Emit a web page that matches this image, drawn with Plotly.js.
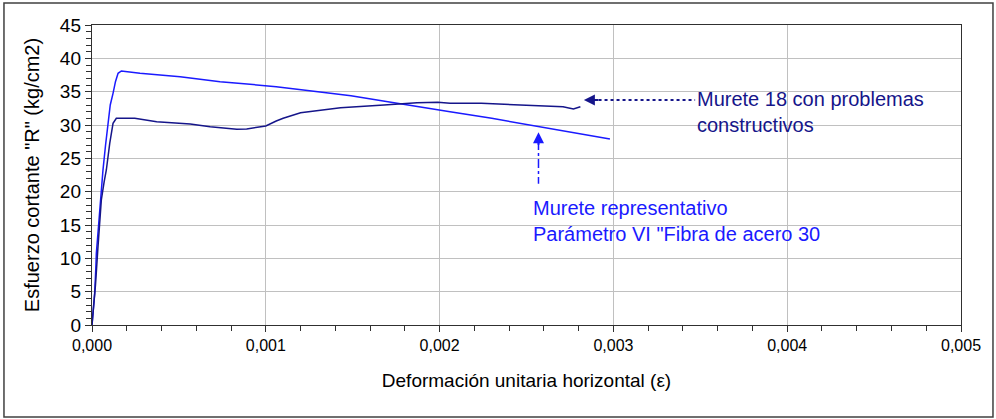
<!DOCTYPE html>
<html>
<head>
<meta charset="utf-8">
<script src="https://cdn.plot.ly/plotly-3.0.1.min.js"></script>
<style>
html,body{margin:0;padding:0;background:#fff;}
#chart{width:996px;height:419px;}
</style>
</head>
<body>
<div id="chart"></div>
<script>
// Murete representativo (Parámetro VI "Fibra de acero 30 ...")
const strainRepresentativo = [0, 0.000008, 0.0000155, 0.000022, 0.000025, 0.000035, 0.000044, 0.000052, 0.000063, 0.000078, 0.000092, 0.000105, 0.000121, 0.000135, 0.00015, 0.000169, 0.000276, 0.000507, 0.000737, 0.00089, 0.00106, 0.0013, 0.00149, 0.00172, 0.00195, 0.00206, 0.0023, 0.00258, 0.0028, 0.00298];
const stressRepresentativo = [0, 2.5, 4.8, 8.5, 10.8, 14.0, 17.2, 20.0, 23.2, 27.0, 30.7, 33.0, 34.75, 36.5, 37.75, 38.1, 37.75, 37.25, 36.5, 36.1, 35.75, 35.0, 34.4, 33.4, 32.4, 32.0, 31.0, 29.7, 28.7, 27.9];

// Murete 18 con problemas constructivos
const strainMurete18 = [0, 0.00001, 0.00002, 0.0000345, 0.000045, 0.0000537, 0.00007, 0.0000825, 0.000102, 0.000121, 0.00014, 0.000246, 0.000372, 0.000565, 0.00068, 0.000833, 0.00089, 0.001, 0.00106, 0.0011, 0.0012, 0.00143, 0.00168, 0.00187, 0.00199, 0.00206, 0.00224, 0.00252, 0.00271, 0.00277, 0.00281];
const stressMurete18 = [0, 3.0, 6.0, 11.75, 15.5, 18.75, 21.5, 23.25, 27.25, 30.25, 31.0, 31.0, 30.5, 30.15, 29.75, 29.35, 29.4, 29.85, 30.6, 31.0, 31.85, 32.6, 33.0, 33.35, 33.4, 33.25, 33.25, 33.0, 32.75, 32.4, 32.75];

const xTitle = 'Deformación unitaria horizontal (ε)';
const yTitle = 'Esfuerzo cortante "R" (kg/cm2)';
const labelMurete18 = 'Murete 18 con problemas<br>constructivos';
const labelRepresentativo = 'Murete representativo<br>Parámetro VI "Fibra de acero 30';

const fontFam = '"Liberation Sans", Arial, sans-serif';
const navy = '#15158a';
const blue = '#1a1aff';

const traces = [
  {x: strainRepresentativo, y: stressRepresentativo, mode: 'lines', line: {color: blue, width: 1.5}, hoverinfo: 'skip'},
  {x: strainMurete18, y: stressMurete18, mode: 'lines', line: {color: navy, width: 1.5}, hoverinfo: 'skip'}
];

const layout = {
  width: 996, height: 419,
  margin: {l: 92, r: 35, t: 25, b: 94},
  paper_bgcolor: '#ffffff', plot_bgcolor: '#ffffff',
  separators: ',.',
  showlegend: false,
  font: {family: fontFam, size: 16, color: '#000'},
  xaxis: {
    range: [0, 0.005], dtick: 0.001, tick0: 0, tickformat: '.3f',
    showgrid: true, gridcolor: '#c0c0c0', gridwidth: 1,
    showline: true, linecolor: '#303030', linewidth: 1.2, mirror: true,
    ticks: 'outside', ticklen: 6, tickcolor: '#303030',
    minor: {dtick: 0.0002, ticks: 'outside', ticklen: 5, tickcolor: '#303030', showgrid: false},
    zeroline: false,
    tickfont: {size: 16},
    title: {text: xTitle, font: {size: 19}, standoff: 20}
  },
  yaxis: {
    range: [0, 45], dtick: 5, tick0: 0,
    showgrid: true, gridcolor: '#c0c0c0', gridwidth: 1,
    showline: true, linecolor: '#303030', linewidth: 1.2, mirror: true,
    ticks: 'outside', ticklen: 6, tickcolor: '#303030',
    minor: {dtick: 1, ticks: 'outside', ticklen: 5, tickcolor: '#303030', showgrid: false},
    zeroline: false,
    tickfont: {size: 19},
    title: {text: yTitle, font: {size: 20}, standoff: 14}
  },
  shapes: [
    {type: 'rect', xref: 'paper', yref: 'paper', x0: -0.1013, x1: 1.0368, y0: -0.3067, y1: 1.0733,
     line: {color: '#404040', width: 1.5}, fillcolor: 'rgba(0,0,0,0)', layer: 'below'},
    {type: 'line', xref: 'x', yref: 'y', x0: 0.00288, x1: 0.00347, y0: 33.75, y1: 33.75,
     line: {color: navy, width: 2, dash: 'dot'}},
    {type: 'line', xref: 'x', yref: 'y', x0: 0.002569, x1: 0.002569, y0: 27.6, y1: 21.2,
     line: {color: blue, width: 1.5, dash: 'dashdot'}}
  ],
  annotations: [
    {x: 0.00283, y: 33.75, xref: 'x', yref: 'y', text: '', showarrow: true,
     ax: 16, ay: 0, arrowhead: 2, arrowsize: 1.1, arrowwidth: 2, arrowcolor: navy},
    {x: 0.002569, y: 28.9, xref: 'x', yref: 'y', text: '', showarrow: true,
     ax: 0, ay: 14, arrowhead: 2, arrowsize: 1.1, arrowwidth: 2, arrowcolor: blue},
    {x: 0.00347, y: 33.75, xref: 'x', yref: 'y', xanchor: 'left', yanchor: 'top', yshift: 14,
     text: labelMurete18, showarrow: false, align: 'left',
     font: {family: fontFam, size: 20, color: navy}},
    {x: 0.002525, y: 18.0, xref: 'x', yref: 'y', xanchor: 'left', yanchor: 'top', yshift: 10,
     text: labelRepresentativo, showarrow: false, align: 'left',
     font: {family: fontFam, size: 20, color: blue}}
  ]
};

Plotly.newPlot('chart', traces, layout, {staticPlot: true, displayModeBar: false});
</script>
</body>
</html>
